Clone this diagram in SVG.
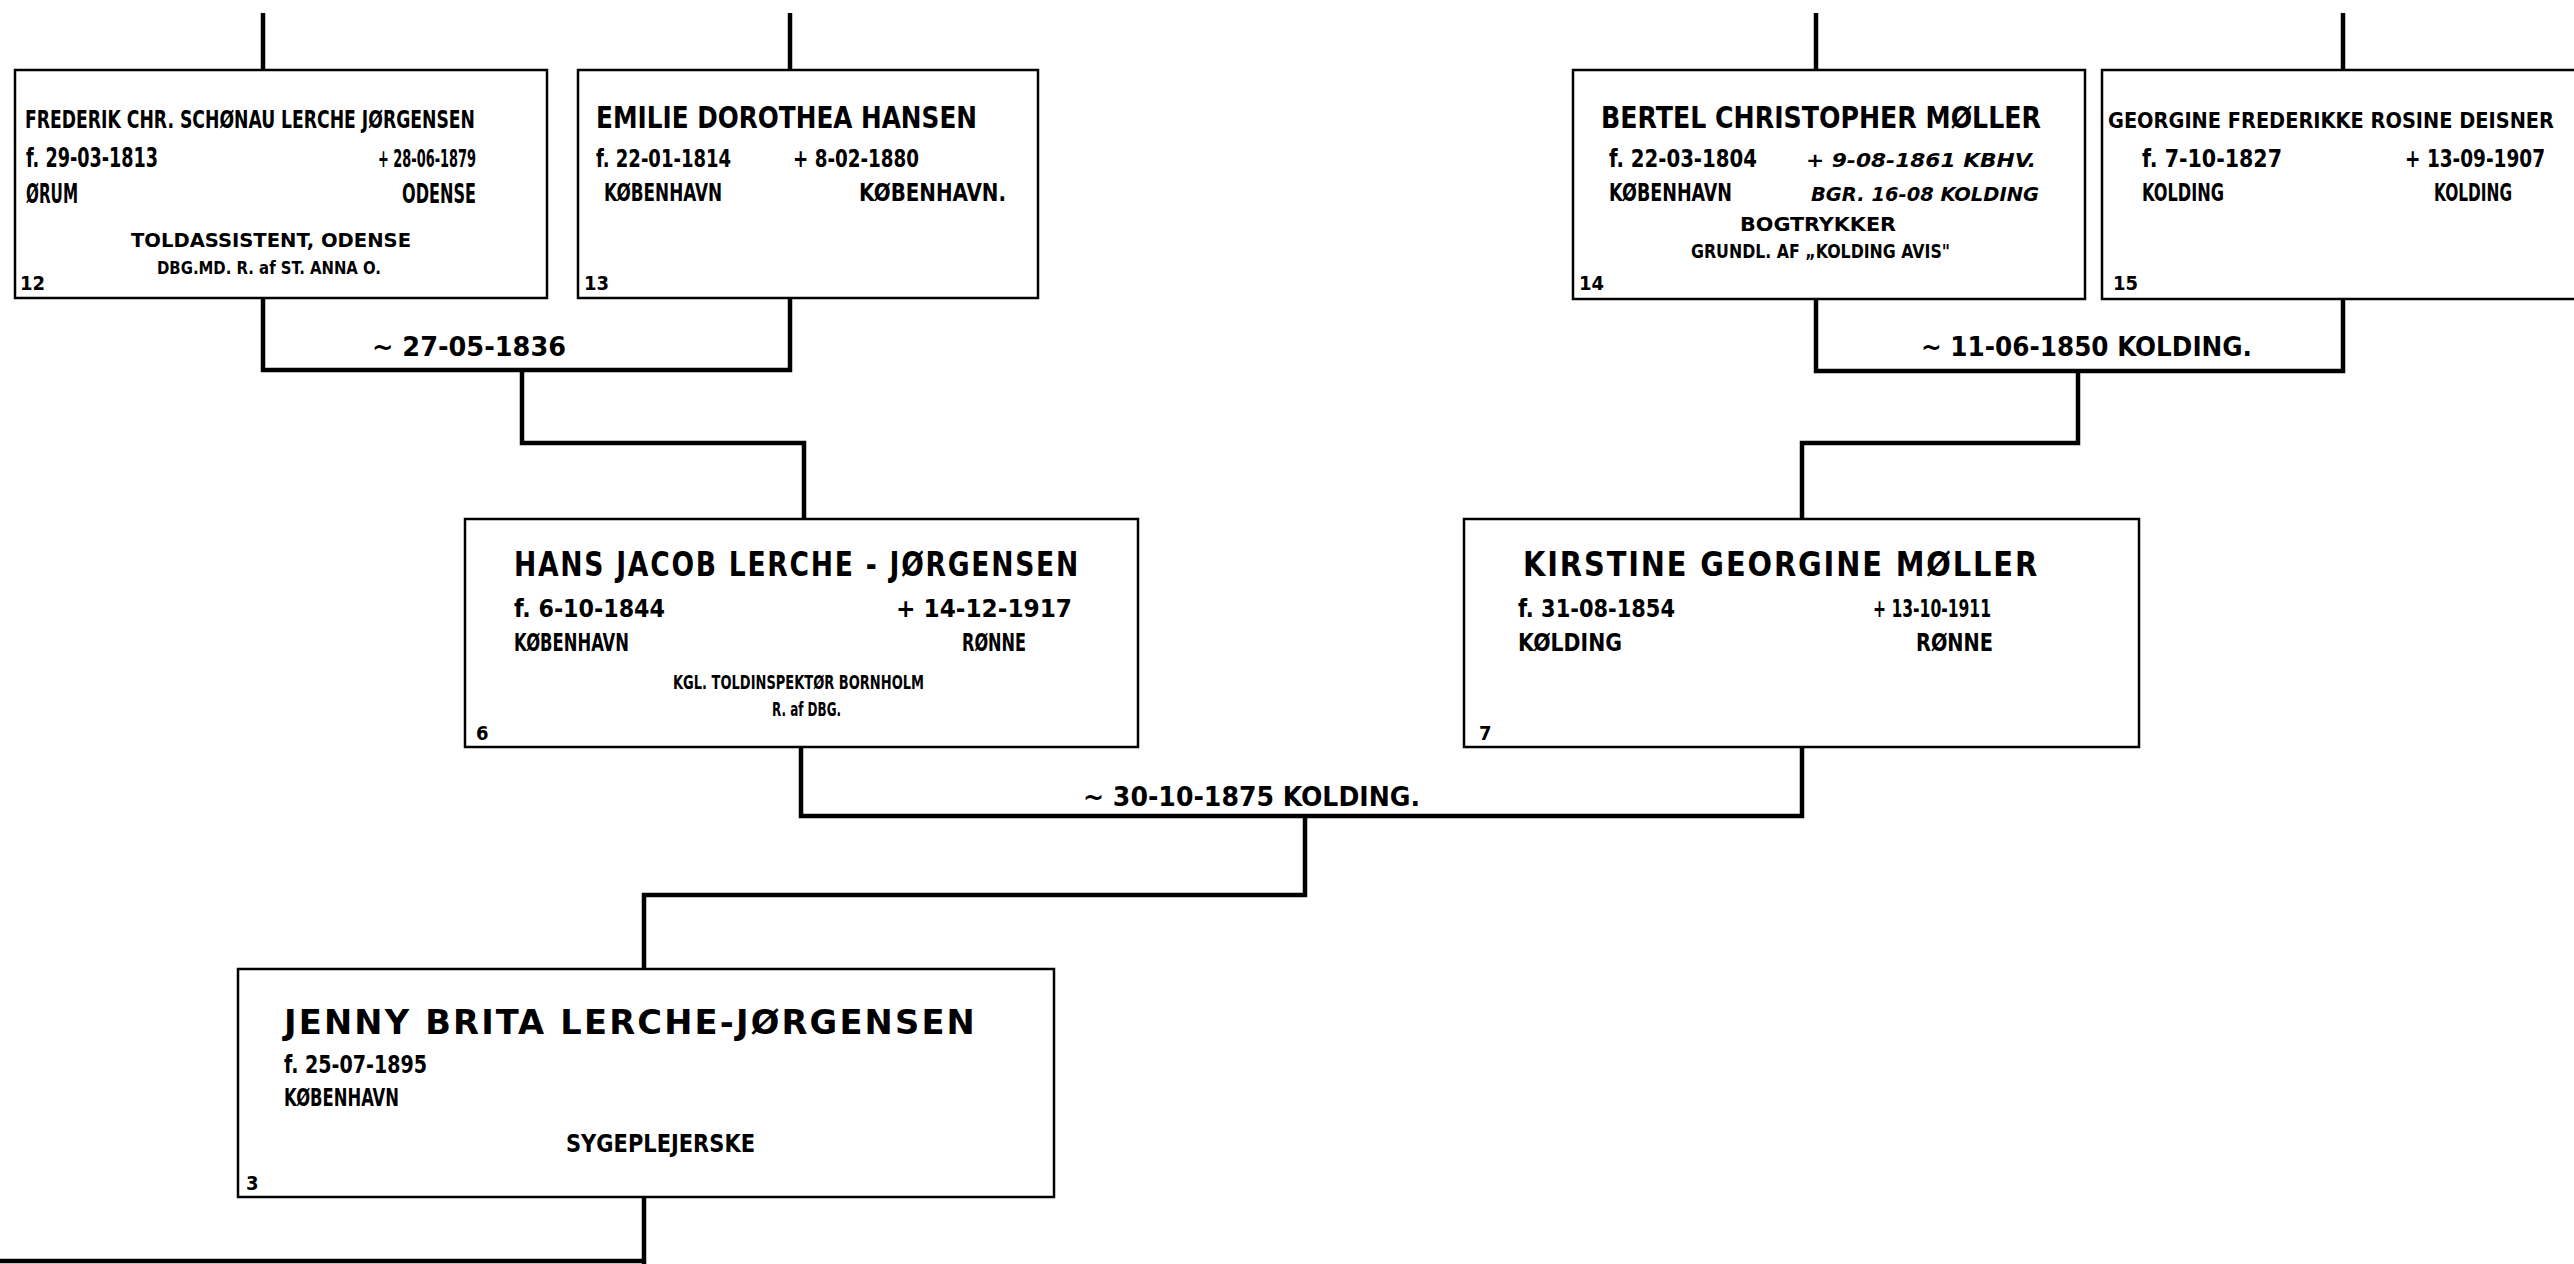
<svg xmlns="http://www.w3.org/2000/svg" width="2574" height="1264" viewBox="0 0 2574 1264">
<style>
.bg{fill:#fff}
.box{fill:#fff;stroke:#000;stroke-width:2.5}
.conn{fill:none;stroke:#000;stroke-width:4.5;stroke-linejoin:miter}
text{font-family:"Liberation Sans Narrow","DejaVu Sans Condensed","Liberation Sans",sans-serif;font-weight:bold;fill:#000}
.n{font-size:30px}
.n2{font-size:25px}
.n3{font-size:22px}
.d{font-size:26px}
.s{font-size:20px}
.xs{font-size:17px}
.num{font-size:20px}
.big{font-size:34px;letter-spacing:2px}
.md{font-size:24px}
.m{font-size:26px}
</style>
<rect class="bg" x="0" y="0" width="2574" height="1264"/>
<g id="connectors">
<path class="conn" d="M263,13 V70"/>
<path class="conn" d="M790,13 V70"/>
<path class="conn" d="M1816,13 V70"/>
<path class="conn" d="M2343,13 V70"/>
<path class="conn" d="M263,298 V370 H790 V298"/>
<path class="conn" d="M522,370 V443 H804 V519"/>
<path class="conn" d="M1816,299 V371 H2343 V299"/>
<path class="conn" d="M2078,371 V443 H1802 V519"/>
<path class="conn" d="M801,747 V816 H1802 V747"/>
<path class="conn" d="M1305,816 V895 H644 V969"/>
<path class="conn" d="M644,1197 V1264 M0,1261 H644"/>
</g>
<g id="node-12">
<rect class="box" x="15" y="70" width="532" height="228"/>
<text class="n2" x="25" y="128" textLength="450" lengthAdjust="spacingAndGlyphs">FREDERIK CHR. SCHØNAU LERCHE JØRGENSEN</text>
<text class="d" x="26" y="167" textLength="132" lengthAdjust="spacingAndGlyphs">f. 29-03-1813</text>
<text class="md" x="378" y="167" textLength="98" lengthAdjust="spacingAndGlyphs">+ 28-06-1879</text>
<text class="d" x="26" y="203" textLength="52" lengthAdjust="spacingAndGlyphs">ØRUM</text>
<text class="d" x="402" y="203" textLength="74" lengthAdjust="spacingAndGlyphs">ODENSE</text>
<text class="s" x="131" y="247" textLength="280" lengthAdjust="spacingAndGlyphs">TOLDASSISTENT, ODENSE</text>
<text class="xs" x="157" y="274" textLength="224" lengthAdjust="spacingAndGlyphs">DBG.MD.   R. af ST. ANNA O.</text>
<text class="num" x="20" y="290">12</text>
</g>
<g id="node-13">
<rect class="box" x="578" y="70" width="460" height="228"/>
<text class="n" x="596" y="128" textLength="381" lengthAdjust="spacingAndGlyphs">EMILIE DOROTHEA  HANSEN</text>
<text class="md" x="596" y="167" textLength="135" lengthAdjust="spacingAndGlyphs">f. 22-01-1814</text>
<text class="md" x="793" y="167" textLength="126" lengthAdjust="spacingAndGlyphs">+ 8-02-1880</text>
<text class="md" x="604" y="201" textLength="118" lengthAdjust="spacingAndGlyphs">KØBENHAVN</text>
<text class="md" x="859" y="201" textLength="147" lengthAdjust="spacingAndGlyphs">KØBENHAVN.</text>
<text class="num" x="584" y="290">13</text>
</g>
<g id="node-14">
<rect class="box" x="1573" y="70" width="512" height="229"/>
<text class="n" x="1601" y="128" textLength="440" lengthAdjust="spacingAndGlyphs">BERTEL CHRISTOPHER  MØLLER</text>
<text class="md" x="1609" y="167" textLength="148" lengthAdjust="spacingAndGlyphs">f. 22-03-1804</text>
<text class="s" x="1806" y="167" textLength="230" lengthAdjust="spacingAndGlyphs" font-style="italic">+ 9-08-1861 KBHV.</text>
<text class="md" x="1609" y="201" textLength="123" lengthAdjust="spacingAndGlyphs">KØBENHAVN</text>
<text class="s" x="1811" y="201" textLength="228" lengthAdjust="spacingAndGlyphs" font-style="italic">BGR. 16-08 KOLDING</text>
<text class="s" x="1740" y="231" textLength="156" lengthAdjust="spacingAndGlyphs">BOGTRYKKER</text>
<text class="s" x="1691" y="258" textLength="259" lengthAdjust="spacingAndGlyphs">GRUNDL. AF „KOLDING AVIS"</text>
<text class="num" x="1579" y="290">14</text>
</g>
<g id="node-15">
<rect class="box" x="2102" y="70" width="480" height="229"/>
<text class="n3" x="2108" y="128" textLength="446" lengthAdjust="spacingAndGlyphs">GEORGINE FREDERIKKE ROSINE DEISNER</text>
<text class="md" x="2142" y="167" textLength="140" lengthAdjust="spacingAndGlyphs">f. 7-10-1827</text>
<text class="md" x="2405" y="167" textLength="140" lengthAdjust="spacingAndGlyphs">+ 13-09-1907</text>
<text class="md" x="2142" y="201" textLength="82" lengthAdjust="spacingAndGlyphs">KOLDING</text>
<text class="md" x="2434" y="201" textLength="78" lengthAdjust="spacingAndGlyphs">KOLDING</text>
<text class="num" x="2113" y="290">15</text>
</g>
<g id="node-6">
<rect class="box" x="465" y="519" width="673" height="228"/>
<text class="big" x="514" y="576" textLength="566" lengthAdjust="spacingAndGlyphs">HANS JACOB LERCHE - JØRGENSEN</text>
<text class="md" x="514" y="617" textLength="151" lengthAdjust="spacingAndGlyphs">f. 6-10-1844</text>
<text class="md" x="896" y="617" textLength="176" lengthAdjust="spacingAndGlyphs">+ 14-12-1917</text>
<text class="md" x="514" y="651" textLength="115" lengthAdjust="spacingAndGlyphs">KØBENHAVN</text>
<text class="md" x="962" y="651" textLength="64" lengthAdjust="spacingAndGlyphs">RØNNE</text>
<text class="s" x="673" y="689" textLength="251" lengthAdjust="spacingAndGlyphs">KGL. TOLDINSPEKTØR BORNHOLM</text>
<text class="s" x="772" y="716" textLength="69" lengthAdjust="spacingAndGlyphs">R. af DBG.</text>
<text class="num" x="476" y="740">6</text>
</g>
<g id="node-7">
<rect class="box" x="1464" y="519" width="675" height="228"/>
<text class="big" x="1523" y="576" textLength="516" lengthAdjust="spacingAndGlyphs">KIRSTINE GEORGINE  MØLLER</text>
<text class="md" x="1518" y="617" textLength="157" lengthAdjust="spacingAndGlyphs">f. 31-08-1854</text>
<text class="md" x="1873" y="617" textLength="118" lengthAdjust="spacingAndGlyphs">+ 13-10-1911</text>
<text class="md" x="1518" y="651" textLength="104" lengthAdjust="spacingAndGlyphs">KØLDING</text>
<text class="md" x="1916" y="651" textLength="77" lengthAdjust="spacingAndGlyphs">RØNNE</text>
<text class="num" x="1479" y="740">7</text>
</g>
<g id="node-3">
<rect class="box" x="238" y="969" width="816" height="228"/>
<text class="big" x="284" y="1034" textLength="693" lengthAdjust="spacingAndGlyphs">JENNY BRITA LERCHE-JØRGENSEN</text>
<text class="md" x="284" y="1073" textLength="143" lengthAdjust="spacingAndGlyphs">f. 25-07-1895</text>
<text class="md" x="284" y="1106" textLength="115" lengthAdjust="spacingAndGlyphs">KØBENHAVN</text>
<text class="md" x="566" y="1152" textLength="189" lengthAdjust="spacingAndGlyphs">SYGEPLEJERSKE</text>
<text class="num" x="246" y="1190">3</text>
</g>
<g id="labels">
<text class="m" x="372" y="356" textLength="194" lengthAdjust="spacingAndGlyphs">~ 27-05-1836</text>
<text class="m" x="1921" y="356" textLength="331" lengthAdjust="spacingAndGlyphs">~ 11-06-1850 KOLDING.</text>
<text class="m" x="1083" y="806" textLength="337" lengthAdjust="spacingAndGlyphs">~ 30-10-1875  KOLDING.</text>
</g>
</svg>
